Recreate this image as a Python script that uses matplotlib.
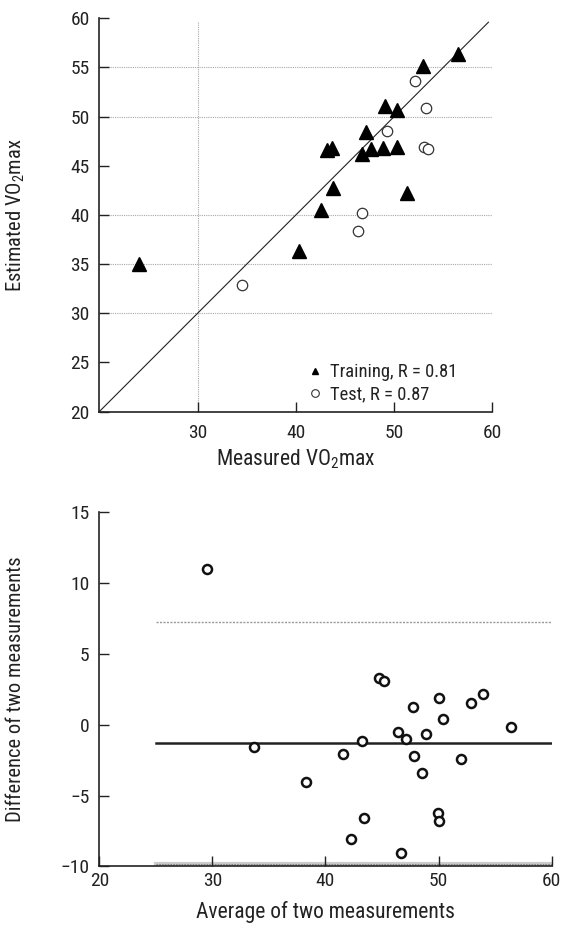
import numpy as np
import matplotlib
matplotlib.use("Agg")
import matplotlib.pyplot as plt
from matplotlib.lines import Line2D

plt.rcParams['font.family'] = ['Roboto Condensed', 'Archivo Narrow', 'DejaVu Sans']
plt.rcParams['mathtext.default'] = 'regular'
plt.rcParams['axes.unicode_minus'] = True

# training set (measured, estimated)
train_meas = [56.5, 52.9, 49.1, 50.25, 47.1, 43.2, 43.7, 46.7, 47.6, 48.9, 50.25, 43.8, 51.3, 42.6, 24.0, 40.3]
train_est = [56.4, 55.1, 51.1, 50.7, 48.4, 46.6, 46.8, 46.2, 46.7, 46.8, 46.9, 42.7, 42.2, 40.5, 35.0, 36.3]

# test set
test_meas = [52.15, 53.25, 49.25, 53.0, 53.5, 46.7, 46.3, 34.5]
test_est = [53.65, 50.9, 48.55, 46.95, 46.75, 40.2, 38.35, 32.85]

# Bland-Altman
ba_avg = [29.55, 33.7, 38.3, 41.55, 43.2, 43.45, 42.3, 44.75, 45.15, 47.75, 50.05, 52.85,
          53.95, 50.4, 56.4, 46.45, 47.1, 48.9, 47.8, 52.0, 48.5, 49.95, 50.05, 46.7]
ba_diff = [10.95, -1.6, -4.05, -2.05, -1.15, -6.6, -8.05, 3.3, 3.1, 1.27, 1.9, 1.5,
           2.18, 0.42, -0.14, -0.55, -1.03, -0.7, -2.25, -2.42, -3.42, -6.2, -6.78, -9.05]
ba_mean = -1.3
ba_upper = 7.25
ba_lower = -9.8

txt = '#222222'
fs_tick = 14
fs_leg = 13.3
fs_xlab = 15.5
fs_ylab = 14.8

fig = plt.figure(figsize=(5.64, 9.32), dpi=100)

# ---- top: estimated vs measured ----
ax1 = fig.add_axes([0.176, 0.5583, 0.697, 0.4221])
grid_kw = dict(color='#a8a8a8', lw=0.8, ls=(0, (1, 1)), zorder=1)
for g in [30, 35, 40, 50, 55]:
    ax1.plot([20, 60], [g, g], **grid_kw)
ax1.plot([30, 30], [20, 59.6], **grid_kw)
ax1.plot([20, 59.6], [20, 59.6], color=txt, lw=0.8, zorder=2)

ax1.plot(train_meas, train_est, ls='none', marker='^', ms=9.5, color='black', zorder=3)
ax1.plot(test_meas, test_est, ls='none', marker='o', ms=7.5, mfc='white', mec='#333333', mew=0.9, zorder=3)

ax1.set_xlim(20, 60)
ax1.set_ylim(20, 60)
ax1.set_xticks([30, 40, 50, 60])
ax1.set_yticks(np.arange(20, 61, 5))
for s in ['top', 'right']:
    ax1.spines[s].set_visible(False)
for s in ['left', 'bottom']:
    ax1.spines[s].set_linewidth(1.2)
    ax1.spines[s].set_color(txt)
ax1.tick_params(direction='in', length=7, width=1, colors=txt, labelsize=fs_tick)
ax1.tick_params(axis='x', pad=9)
ax1.tick_params(axis='y', pad=7)
ax1.set_xlabel('Measured VO$_2$max', fontsize=fs_xlab, color=txt, va='center')
ax1.xaxis.set_label_coords(0.5, -0.12)
ax1.set_ylabel('Estimated VO$_2$max', fontsize=fs_ylab, color=txt, va='center')
ax1.yaxis.set_label_coords(-0.213, 0.5)

handles = [Line2D([], [], ls='none', marker='^', ms=5, color='black'),
           Line2D([], [], ls='none', marker='o', ms=5.5, mfc='white', mec='#333333', mew=0.8)]
ax1.legend(handles, ['Training, R = 0.81', 'Test, R = 0.87'], loc='lower left',
           bbox_to_anchor=(0.53, 0.02), frameon=False, fontsize=fs_leg, handlelength=0.8,
           handletextpad=0.4, labelspacing=0.25, borderpad=0, borderaxespad=0,
           labelcolor=txt)

# ---- bottom: Bland-Altman ----
ax2 = fig.add_axes([0.176, 0.0703, 0.802, 0.3807])
ax2.plot([25, 60], [ba_upper, ba_upper], color='#999999', lw=1.0, ls=(0, (1.5, 1)), zorder=1)
ax2.plot([25, 60], [ba_lower, ba_lower], color='#cccccc', lw=3, zorder=1)
ax2.plot([25, 60], [ba_lower, ba_lower], color='#888888', lw=0.8, ls=(0, (1.5, 1)), zorder=1)
ax2.plot([25, 60], [ba_mean, ba_mean], color=txt, lw=1.8, zorder=2)
ax2.plot(ba_avg, ba_diff, ls='none', marker='o', ms=6.5, mfc='white', mec='#111111', mew=1.8, zorder=3)

ax2.set_xlim(20, 60)
ax2.set_ylim(-10, 15)
ax2.set_xticks(np.arange(20, 61, 10))
ax2.set_yticks(np.arange(-10, 16, 5))
for s in ['top', 'right']:
    ax2.spines[s].set_visible(False)
for s in ['left', 'bottom']:
    ax2.spines[s].set_linewidth(1.2)
    ax2.spines[s].set_color(txt)
ax2.tick_params(direction='in', length=7, width=1, colors=txt, labelsize=fs_tick)
ax2.tick_params(axis='x', pad=4)
ax2.tick_params(axis='y', pad=7)
ax2.set_xlabel('Average of two measurements', fontsize=fs_xlab, color=txt, va='center')
ax2.xaxis.set_label_coords(0.5, -0.128)
ax2.set_ylabel('Difference of two measurements', fontsize=fs_ylab, color=txt, va='center')
ax2.yaxis.set_label_coords(-0.186, 0.5)

fig.savefig('out.png', dpi=100)
